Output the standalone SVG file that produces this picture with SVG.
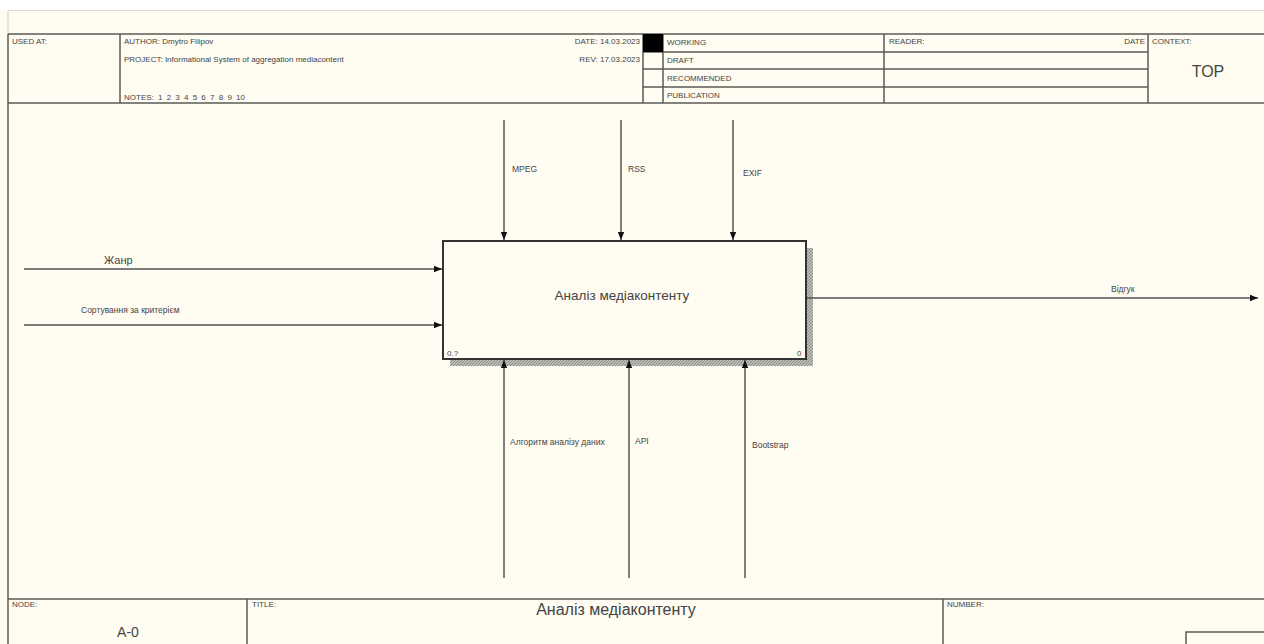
<svg xmlns="http://www.w3.org/2000/svg" width="1264" height="644" viewBox="0 0 1264 644">
<style>
.fr{fill:none;stroke:#5a5a55;stroke-width:1.5}
.t{font-family:"Liberation Sans",Arial,sans-serif;fill:#444;font-size:8px}
.l{font-family:"Liberation Sans",Arial,sans-serif;fill:#444;font-size:8.5px}
.a{stroke:#555;stroke-width:1.5;fill:none}
</style>
<defs>
<marker id="ah" viewBox="0 0 10 10" refX="10" refY="5" markerWidth="8" markerHeight="8" markerUnits="userSpaceOnUse" orient="auto"><path d="M0,1 L10,5 L0,9 z" fill="#111"/></marker>
<pattern id="hatch" width="3" height="3" patternUnits="userSpaceOnUse"><rect width="3" height="3" fill="#bdbdb8"/><path d="M0,3 L3,0" stroke="#8c8c88" stroke-width="1"/></pattern>
</defs>
<rect width="1264" height="644" fill="#fffcf2"/>
<rect width="1264" height="10" fill="#ffffff"/>
<g id="frame">
<line stroke="#dddbd2" stroke-width="1" x1="8" y1="10.5" x2="1264" y2="10.5"/>
<line stroke="#dddbd2" stroke-width="1.5" x1="8" y1="11" x2="8" y2="34"/>
<line class="fr" x1="8" y1="34" x2="8" y2="644"/>
<line class="fr" x1="8" y1="34" x2="1264" y2="34"/>
<line class="fr" x1="8" y1="103" x2="1264" y2="103"/>
<line class="fr" x1="120" y1="34" x2="120" y2="103"/>
<line class="fr" x1="643" y1="34" x2="643" y2="103"/>
<line class="fr" x1="663" y1="34" x2="663" y2="103"/>
<line class="fr" x1="884" y1="34" x2="884" y2="103"/>
<line class="fr" x1="1148" y1="34" x2="1148" y2="103"/>
<line class="fr" x1="643" y1="52" x2="1148" y2="52"/>
<line class="fr" x1="643" y1="69" x2="1148" y2="69"/>
<line class="fr" x1="643" y1="87" x2="1148" y2="87"/>
<rect x="643" y="34" width="20" height="18" fill="#000"/>
<line class="fr" x1="8" y1="599" x2="1264" y2="599"/>
<line class="fr" x1="247" y1="599" x2="247" y2="644"/>
<line class="fr" x1="943" y1="599" x2="943" y2="644"/>
<rect class="fr" x="1186" y="632" width="90" height="20"/>
<text class="t" x="12" y="44">USED AT:</text>
<text class="t" x="124" y="44">AUTHOR:  Dmytro Filipov</text>
<text class="t" x="124" y="62">PROJECT:  Informational System of aggregation mediacontent</text>
<text class="t" x="124" y="100" word-spacing="2">NOTES:  1 2 3 4 5 6 7 8 9 10</text>
<text class="t" x="640" y="44" text-anchor="end">DATE:  14.03.2023</text>
<text class="t" x="640" y="62" text-anchor="end">REV:   17.03.2023</text>
<text class="t" x="667" y="45">WORKING</text>
<text class="t" x="667" y="63">DRAFT</text>
<text class="t" x="667" y="81">RECOMMENDED</text>
<text class="t" x="667" y="98">PUBLICATION</text>
<text class="t" x="889" y="44">READER:</text>
<text class="t" x="1145" y="44" text-anchor="end">DATE</text>
<text class="t" x="1152" y="44">CONTEXT:</text>
<text font-family="Liberation Sans,Arial,sans-serif" font-size="16" fill="#444" x="1208" y="77" text-anchor="middle">TOP</text>
<text class="t" x="12" y="607">NODE:</text>
<text font-family="Liberation Sans,Arial,sans-serif" font-size="14" fill="#444" x="128" y="637" text-anchor="middle">A-0</text>
<text class="t" x="252" y="607">TITLE:</text>
<text font-family="Liberation Sans,Arial,sans-serif" font-size="16" fill="#444" x="616" y="615" text-anchor="middle">Аналіз медіаконтенту</text>
<text class="t" x="947" y="607">NUMBER:</text>
</g>
<g id="node-A0">
<rect x="450" y="248" width="363" height="118" fill="url(#hatch)"/>
<rect x="443" y="241" width="363" height="118" fill="#fffcf2" stroke="#333" stroke-width="2"/>
<text font-family="Liberation Sans,Arial,sans-serif" font-size="13.5" fill="#444" x="622" y="300" text-anchor="middle">Аналіз медіаконтенту</text>
<text class="t" x="447" y="356" font-size="7">0.?</text>
<text class="t" x="797" y="356" font-size="7">0</text>
</g>
<g id="connectors">
<line class="a" x1="504" y1="120" x2="504" y2="240" marker-end="url(#ah)"/>
<line class="a" x1="621" y1="120" x2="621" y2="240" marker-end="url(#ah)"/>
<line class="a" x1="733" y1="120" x2="733" y2="240" marker-end="url(#ah)"/>
<line class="a" x1="24" y1="269" x2="442" y2="269" marker-end="url(#ah)"/>
<line class="a" x1="24" y1="325" x2="442" y2="325" marker-end="url(#ah)"/>
<line class="a" x1="807" y1="298" x2="1258" y2="298" marker-end="url(#ah)"/>
<line class="a" x1="504" y1="578" x2="504" y2="360" marker-end="url(#ah)"/>
<line class="a" x1="629" y1="578" x2="629" y2="360" marker-end="url(#ah)"/>
<line class="a" x1="745" y1="578" x2="745" y2="360" marker-end="url(#ah)"/>
<text class="l" x="512" y="172">MPEG</text>
<text class="l" x="628" y="172">RSS</text>
<text class="l" x="743" y="176">EXIF</text>
<text font-family="Liberation Sans,Arial,sans-serif" font-size="11" fill="#444" x="104" y="264">Жанр</text>
<text class="l" x="81" y="313" font-size="9">Сортування за критерієм</text>
<text class="l" x="1111" y="292">Відгук</text>
<text class="l" x="510" y="445">Алгоритм аналізу даних</text>
<text class="l" x="635" y="444">API</text>
<text class="l" x="752" y="448">Bootstrap</text>
</g>
</svg>
